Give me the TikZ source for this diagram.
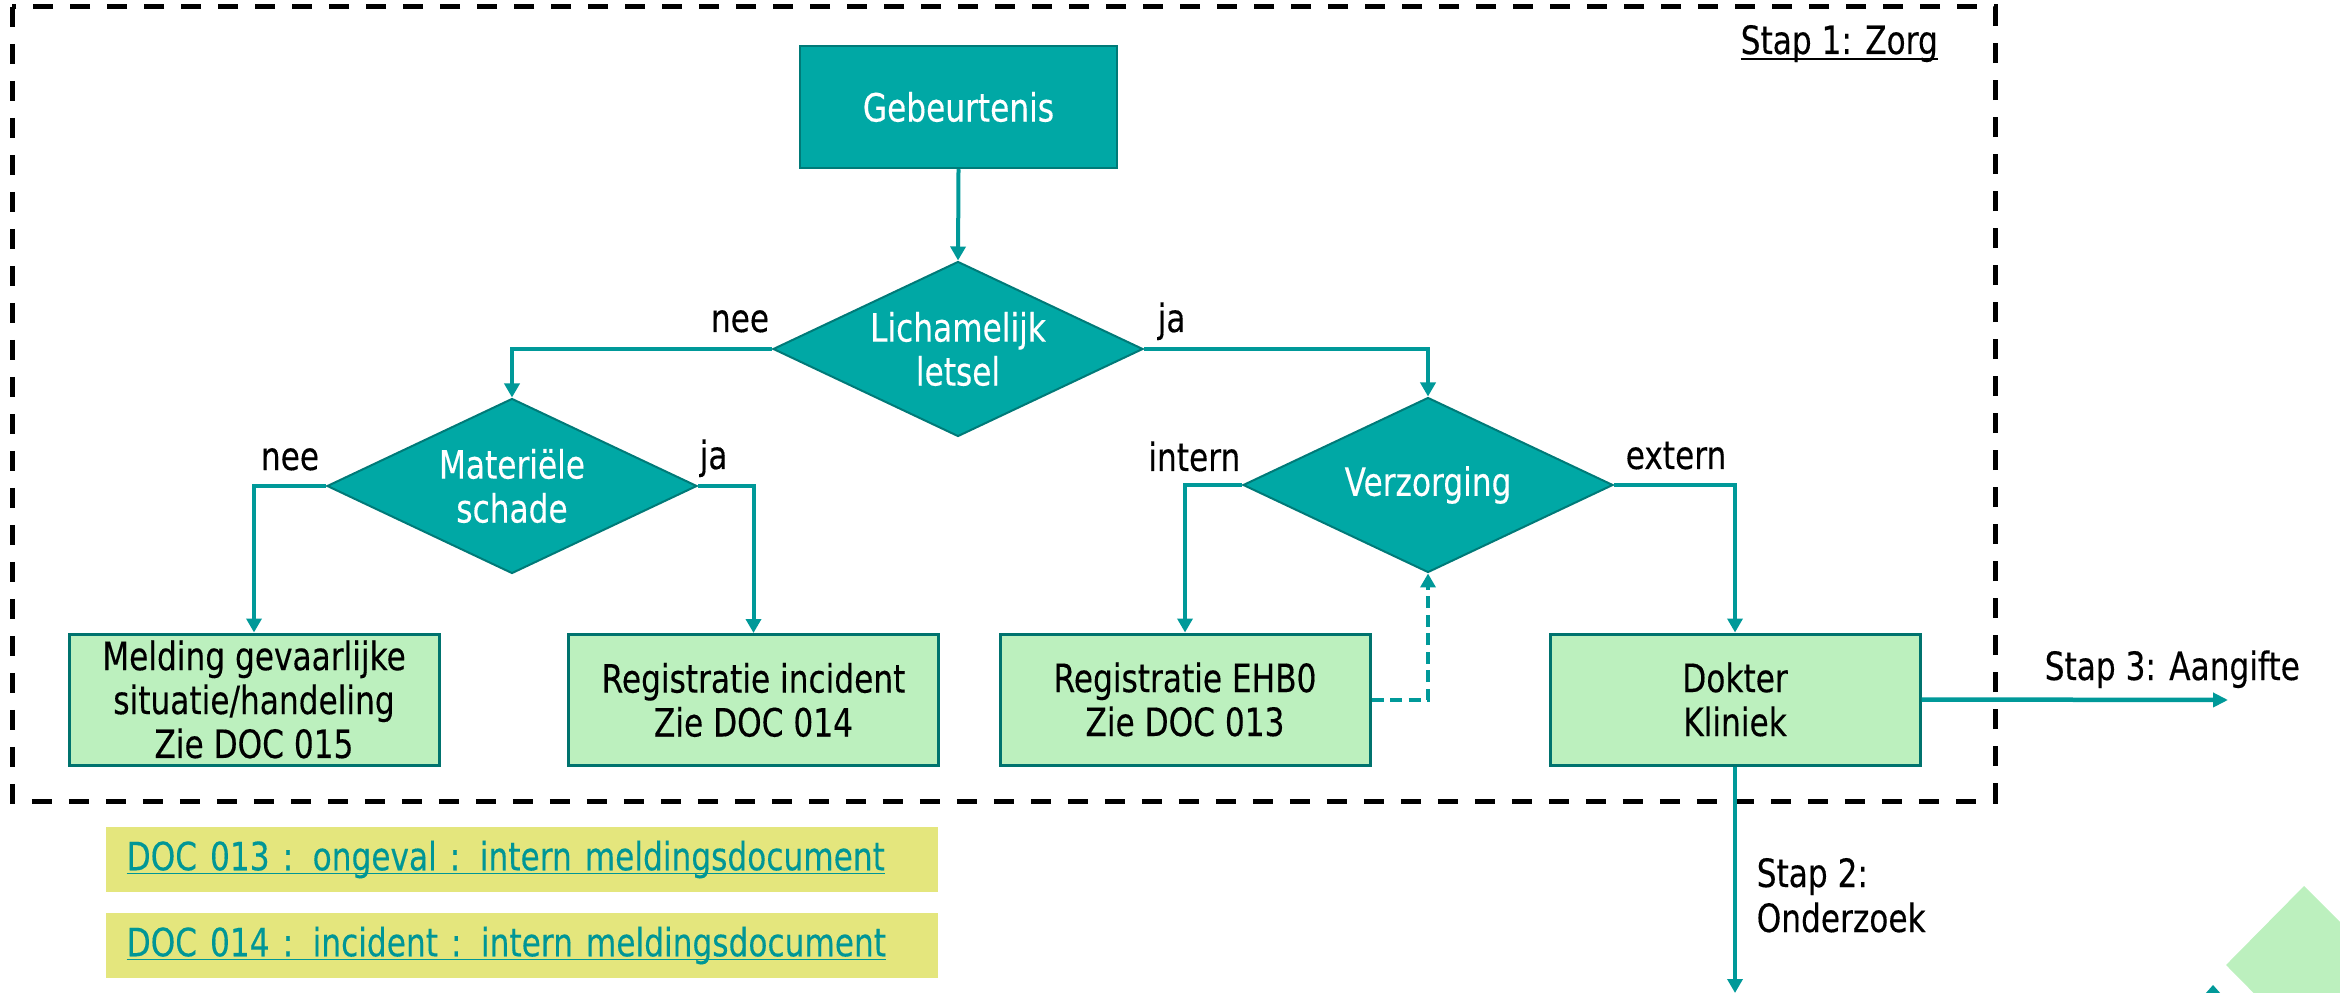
\documentclass[tikz,border=0pt]{standalone}
\usepackage{fontspec}
\setmainfont{DejaVu Sans}[FakeStretch=0.8,FakeBold=0.3]
\usetikzlibrary{arrows.meta,shapes.geometric}
\definecolor{tealfill}{RGB}{0,168,165}
\definecolor{tealborder}{RGB}{0,122,120}
\definecolor{lineteal}{RGB}{0,153,153}
\definecolor{lightgreen}{RGB}{188,240,190}
\definecolor{boxborder}{RGB}{0,115,110}
\definecolor{docyellow}{RGB}{228,230,125}
\definecolor{linkteal}{RGB}{0,150,150}
\newcommand\ulx[2][-1.2pt]{\setbox0\hbox{#2}\rlap{\rule[#1]{\wd0}{0.55pt}}\box0}
\tikzset{
  basefont/.style={font=\fontsize{11.1pt}{12.5pt}\selectfont},
  startbox/.style={rectangle, fill=tealfill, draw=tealborder, line width=0.25mm,
    minimum width=31.7mm, minimum height=12.2mm, text=white, basefont, inner sep=0pt},
  decision/.style={diamond, aspect=2.1, fill=tealfill, draw=tealborder, line width=0.2mm,
    minimum width=37mm, minimum height=17.5mm, text=white, align=center, basefont, inner sep=0pt},
  procbox/.style={rectangle, fill=lightgreen, draw=boxborder, line width=0.3mm,
    minimum width=37mm, minimum height=13.1mm, text=black, align=center, basefont, inner sep=0pt},
  conn/.style={draw=lineteal, line width=0.4mm, -{Triangle[length=1.4mm,width=1.5mm]}},
  lbl/.style={basefont, text=black, inner sep=0pt},
  docbox/.style={rectangle, fill=docyellow, minimum height=6.5mm, inner xsep=2.1mm, inner ysep=0pt,
    text width=79mm, align=left, text=linkteal, basefont},
  framebox/.style={draw=black, line width=0.5mm, dash pattern=on 2mm off 1.7mm}
}
\begin{document}
\begin{tikzpicture}[x=0.1mm,y=-0.1mm]
\useasboundingbox (0,0) rectangle (2340,993);

% frame
\draw[framebox] (12,7) rectangle (1995,801);
\node[lbl, anchor=base west] (stap1) at (1740,54) {\ulx[-1.6pt]{Stap 1: Zorg}};

% nodes
\node[startbox] (geb) at (958.5,107) {Gebeurtenis};
\node[decision] (lich) at (958,349) {Lichamelijk\\letsel};
\node[decision] (mat) at (512,486) {Materiële\\schade};
\node[decision] (verz) at (1428,485) {Verzorging};
\node[procbox] (meld) at (254,699.5) {Melding gevaarlijke\\situatie/handeling\\Zie DOC 015};
\node[procbox] (inc) at (753.5,700) {Registratie incident\\Zie DOC 014};
\node[procbox] (ehbo) at (1185,699.5) {Registratie EHB0\\Zie DOC 013};
\node[procbox] (dok) at (1735,699.5) {Dokter\\Kliniek};

% connectors
\draw[conn] (geb.south) -- (lich.north);
\draw[conn] (lich.west) -| (mat.north);
\draw[conn] (lich.east) -| (verz.north);
\draw[conn] (mat.west) -| (meld.north);
\draw[conn] (mat.east) -| (inc.north);
\draw[conn] (verz.west) -| (ehbo.north);
\draw[conn] (verz.east) -| (dok.north);
\draw[conn, dash pattern=on 1.2mm off 0.65mm] (ehbo.east) -| (verz.south);

\coordinate (s3end) at (2228,700);
\coordinate (s2end) at (1735,993);
\draw[draw=lineteal, line width=0.45mm, -{Triangle[length=1.5mm,width=1.4mm]}] (dok.east) -- (s3end);
\draw[conn] (dok.south) -- (s2end);

% labels
\node[lbl, anchor=base] (l1) at (740,332) {nee};
\node[lbl, anchor=base west] (l2) at (1157,332) {ja};
\node[lbl, anchor=base] (l3) at (290,470) {nee};
\node[lbl, anchor=base west] (l4) at (699,469) {ja};
\node[lbl, anchor=base east] (l5) at (1241,471) {intern};
\node[lbl, anchor=base west] (l6) at (1625,469) {extern};
\node[lbl, anchor=base west] (s3) at (2044,680) {Stap 3: Aangifte};
\node[lbl, anchor=base west] (s2a) at (1756,887) {Stap 2:};
\node[lbl, anchor=base west] (s2b) at (1756,932) {Onderzoek};

% doc links
\node[docbox, anchor=west] (doc13) at (105,859.5) {\ulx{DOC 013 : ongeval : intern meldingsdocument}};
\node[docbox, anchor=west] (doc14) at (105,945.5) {\ulx{DOC 014 : incident : intern meldingsdocument}};

% decoration bottom right
\begin{scope}
\clip (0,0) rectangle (2340,993);
\fill[lightgreen] (2304,886) -- (2383,965) -- (2304,1044) -- (2226,965) -- cycle;
\fill[lineteal] (2213,985) -- (2221,994) -- (2205,994) -- cycle;
\end{scope}
\end{tikzpicture}
\end{document}
